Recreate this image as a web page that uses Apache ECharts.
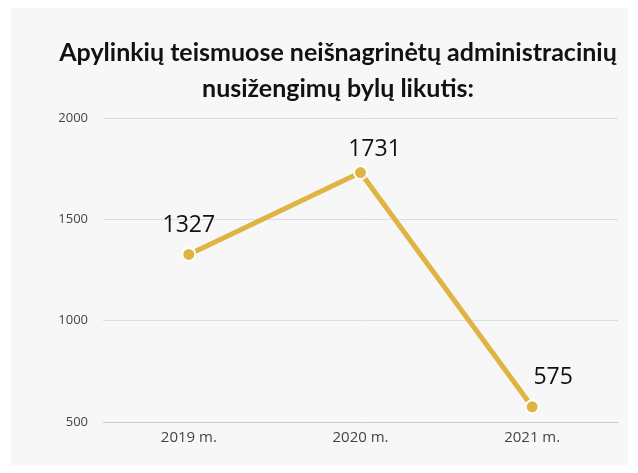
<!DOCTYPE html>
<html>
<head>
<meta charset="utf-8">
<script src="https://cdn.jsdelivr.net/npm/echarts@6/dist/echarts.min.js"></script>
<style>
  html, body { margin: 0; padding: 0; background: #fff; }
  #main { width: 638px; height: 473px; }
</style>
</head>
<body>
<div id="main"></div>
<script>
    // data
    const years = ['2019 m.', '2020 m.', '2021 m.'];
    const values = [1327, 1731, 575];
    const labelShift = [[0, 0], [14, 6], [21, 0]];

    const chart = echarts.init(document.getElementById('main'));

    const option = {
        backgroundColor: '#fff',
        graphic: [{
            type: 'rect',
            z: -10,
            shape: { x: 11, y: 8, width: 617, height: 457 },
            style: { fill: '#f7f7f7' }
        }],
        title: {
            text: 'Apylinkių teismuose neišnagrinėtų administracinių\nnusižengimų bylų likutis:',
            left: 333,
            textAlign: 'center',
            top: 30,
            textStyle: {
                fontFamily: 'Lato',
                fontWeight: 'bold',
                fontSize: 25,
                lineHeight: 36,
                color: '#111'
            }
        },
        grid: { left: 103, right: 20, top: 118, bottom: 51 },
        xAxis: {
            type: 'category',
            data: years,
            axisLine: { lineStyle: { color: '#cccccc' } },
            axisTick: { inside: true, length: 6, lineStyle: { color: '#cccccc' } },
            axisLabel: { color: '#444', fontSize: 15, fontFamily: 'Open Sans', margin: 8 }
        },
        yAxis: {
            type: 'value',
            min: 500,
            max: 2000,
            interval: 500,
            axisLine: { show: false },
            axisTick: { show: false },
            axisLabel: {
                color: '#444', fontSize: 13, fontFamily: 'Open Sans', margin: 15,
                formatter: v => String(v)
            },
            splitLine: { lineStyle: { color: '#dddddd' } }
        },
        series: [{
            type: 'line',
            data: values.map((v, i) => ({
                value: v,
                label: { offset: labelShift[i] }
            })),
            symbol: 'circle',
            symbolSize: 13,
            lineStyle: { color: '#dfb443', width: 5 },
            itemStyle: { color: '#dfb443', borderColor: '#fff', borderWidth: 2 },
            label: {
                show: true,
                position: 'top',
                distance: 10,
                color: '#111',
                fontSize: 23,
                fontFamily: 'Open Sans'
            },
            animation: false
        }]
    };
    chart.setOption(option);
</script>
</body>
</html>
